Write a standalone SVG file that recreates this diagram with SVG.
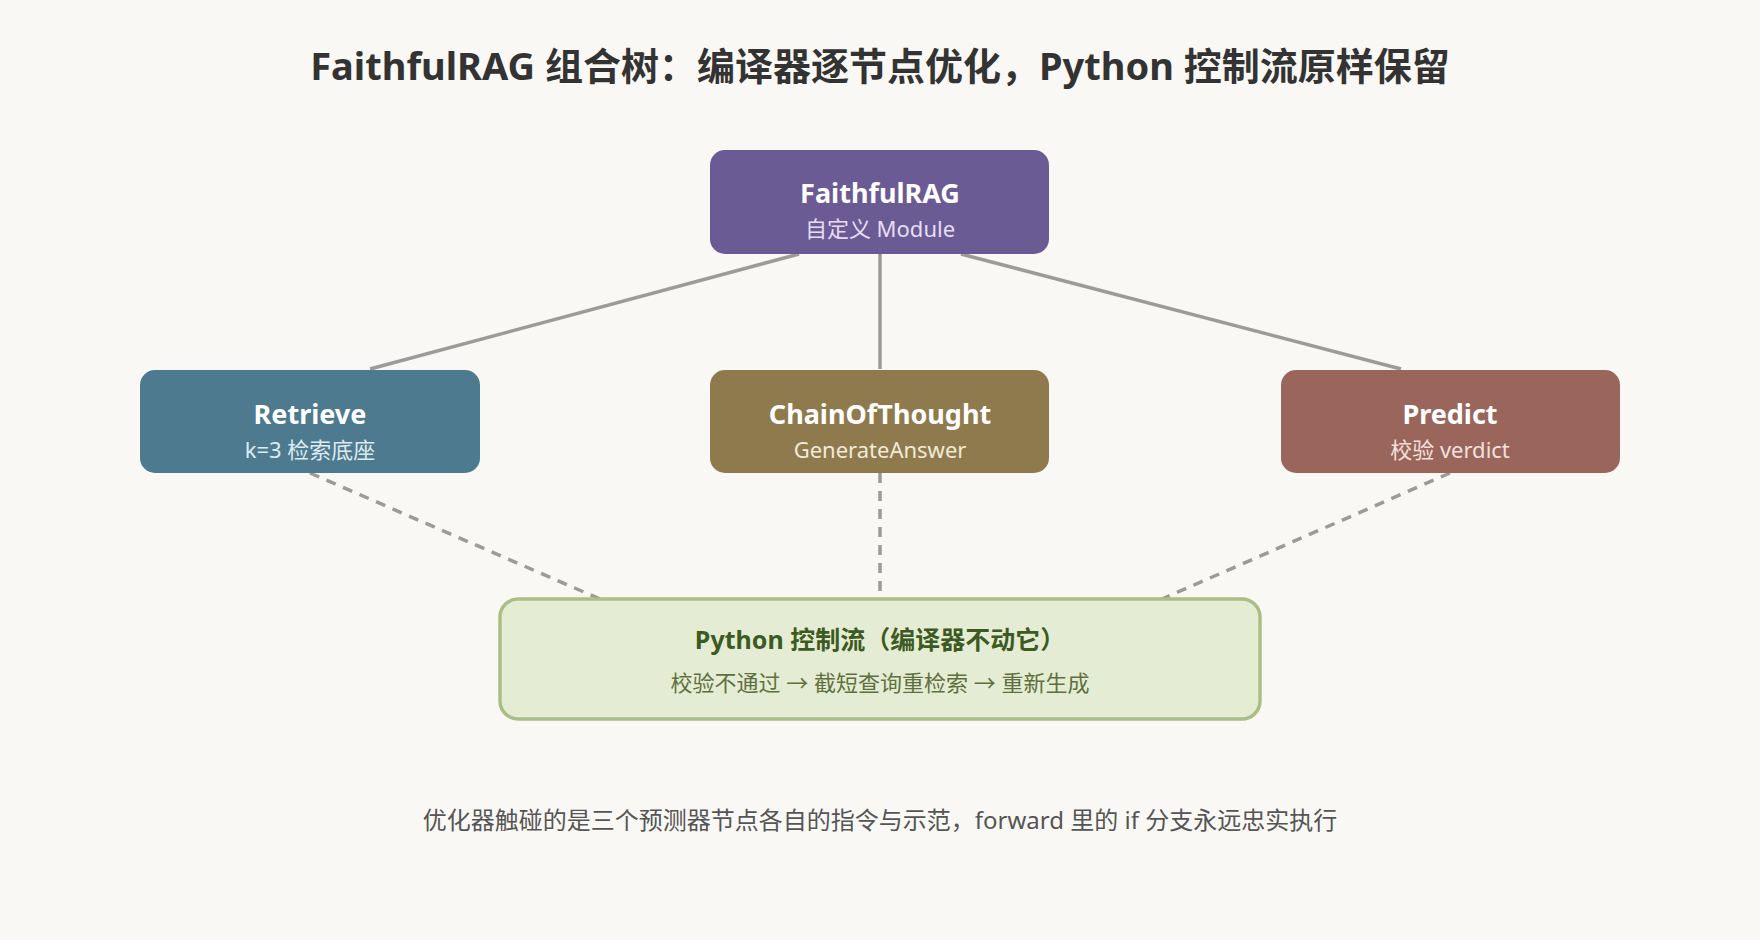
<svg xmlns="http://www.w3.org/2000/svg" width="1760" height="940" viewBox="0 0 1760 940">
<style>
text{font-family:"Noto Sans","Noto Sans CJK SC",sans-serif;text-anchor:middle}
.t{font-size:27px;font-weight:bold;fill:#fff}
.s{font-size:22px}
.solid{stroke:#9b9b9b;stroke-width:3.5;fill:none}
.dash{stroke:#9b9b9b;stroke-width:3.5;fill:none;stroke-dasharray:10 8}
</style>
<rect width="1760" height="940" fill="#faf8f4"/>
<text x="880" y="80" style="font-size:38px;font-weight:bold;fill:#333">FaithfulRAG 组合树：编译器逐节点优化，Python 控制流原样保留</text>
<g id="connectors">
<line class="solid" x1="799" y1="254" x2="370" y2="369"/>
<line class="solid" x1="880" y1="254" x2="880" y2="369"/>
<line class="solid" x1="961" y1="254" x2="1401" y2="369"/>
<line class="dash" x1="310" y1="473" x2="600" y2="599"/>
<line class="dash" x1="880" y1="473" x2="880" y2="599"/>
<line class="dash" x1="1450" y1="473" x2="1162" y2="599"/>
</g>
<g id="root"><rect x="710" y="150" width="339" height="104" rx="15" fill="#6b5b95"/>
<text class="t" x="880" y="203">FaithfulRAG</text><text class="s" x="880" y="237" fill="#e6def5">自定义 Module</text></g>
<g id="retrieve"><rect x="140" y="370" width="340" height="103" rx="15" fill="#4d7a8f"/>
<text class="t" x="310" y="424">Retrieve</text><text class="s" x="310" y="458" fill="#dcebf2">k=3 检索底座</text></g>
<g id="cot"><rect x="710" y="370" width="339" height="103" rx="15" fill="#8f7a4d"/>
<text class="t" x="880" y="424">ChainOfThought</text><text class="s" x="880" y="458" fill="#f2ead8">GenerateAnswer</text></g>
<g id="predict"><rect x="1281" y="370" width="339" height="103" rx="15" fill="#9a665c"/>
<text class="t" x="1450" y="424">Predict</text><text class="s" x="1450" y="458" fill="#f5e0dc">校验 verdict</text></g>
<g id="control"><rect x="500" y="599" width="760" height="120" rx="18" fill="#e4edd3" stroke="#a9bf85" stroke-width="3.5"/>
<text x="880" y="649" style="font-size:25px;font-weight:bold;fill:#3e5a23">Python 控制流（编译器不动它）</text>
<text class="s" x="880" y="691" fill="#5f7040">校验不通过 → 截短查询重检索 → 重新生成</text></g>
<text x="880" y="829" style="font-size:24px;fill:#555">优化器触碰的是三个预测器节点各自的指令与示范，forward 里的 if 分支永远忠实执行</text>
</svg>
